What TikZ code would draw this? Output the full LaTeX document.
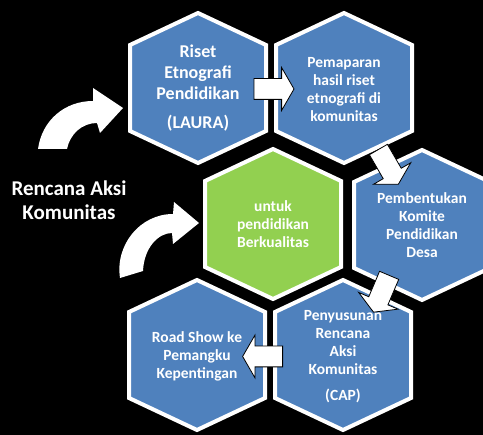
\documentclass[tikz,border=0pt]{standalone}
\usepackage{fontspec}
\setmainfont{Carlito}
\usetikzlibrary{calc,shapes.arrows}

\definecolor{hexblue}{HTML}{4F81BD}
\definecolor{hexgreen}{HTML}{92D050}

% pointy-top hexagon around a centre
\newcommand{\hexcell}[2]{%
  \filldraw[fill=#2, draw=white, line width=4pt, line join=miter]
    (#1) ++(0,-75) -- ++(68,32) -- ++(0,86) -- ++(-68,32) -- ++(-68,-32) -- ++(0,-86) -- cycle;
}

\begin{document}
\begin{tikzpicture}[x=1pt, y=-1pt,
    celltext/.style={text=white, align=center, font=\bfseries\fontsize{15.5}{18}\selectfont},
    bigtext/.style={text=white, align=center, font=\bfseries\fontsize{18}{21}\selectfont},
    flowarrow/.style={single arrow, draw=black, fill=white, line width=0.8pt,
    minimum height=40pt, minimum width=0pt, inner sep=10pt,
    single arrow head extend=11pt, single arrow tip angle=120}]
    \useasboundingbox (0,0) rectangle (483,435);
    \clip (0,0) rectangle (483,435);
    \fill[black] (0,0) rectangle (483,435);

    \hexcell{198,88}{hexblue}
    \hexcell{344,88}{hexblue}
    \hexcell{273,224}{hexgreen}
    \hexcell{422,225}{hexblue}
    \hexcell{343,355}{hexblue}
    \hexcell{197,355}{hexblue}

    \node (riset) [bigtext] at (198,88) {Riset\\Etnografi\\Pendidikan\\[8pt](LAURA)};
    \node (pemaparan) [celltext] at (344,90) {Pemaparan\\hasil riset\\etnografi di\\komunitas};
    \node (berkualitas) [celltext] at (273,224) {untuk\\pendidikan\\Berkualitas};
    \node (komite) [celltext] at (422,225) {Pembentukan\\Komite\\Pendidikan\\Desa};
    \node (cap) [celltext] at (343,357) {Penyusunan\\Rencana\\Aksi\\Komunitas\\[8pt](CAP)};
    \node (roadshow) [celltext] at (197,356) {Road Show ke\\Pemangku\\Kepentingan};

    \node (rencana) [text=white, align=center, font=\bfseries\fontsize{21}{24}\selectfont] at (69,200) {Rencana Aksi\\Komunitas};

    % curved arrows
    \fill[white] (38,149) .. controls (42,120) and (65,101) .. (93,101) -- (93,88) -- (123,108) -- (100,133)
        -- (97,123) .. controls (82,123) and (70,134) .. (67,149) -- cycle;
    \fill[white] (120,278) .. controls (115,245) and (140,214) .. (173,214) -- (174,202) -- (199,223) -- (173,244)
        -- (172,233) .. controls (158,233) and (144,248) .. (143,271) -- cycle;

    \node (step1) [flowarrow] at ($(riset)!0.5!(pemaparan)$) {};
    \node (step2) [flowarrow, rotate=-60] at ($(pemaparan)!0.55!(komite)$) {};
    \node (step3) [flowarrow, rotate=-113] at ($(komite)!0.5!(cap)$) {};
    \node (step4) [flowarrow, rotate=180] at ($(cap)!0.53!(roadshow)$) {};
\end{tikzpicture}
\end{document}
